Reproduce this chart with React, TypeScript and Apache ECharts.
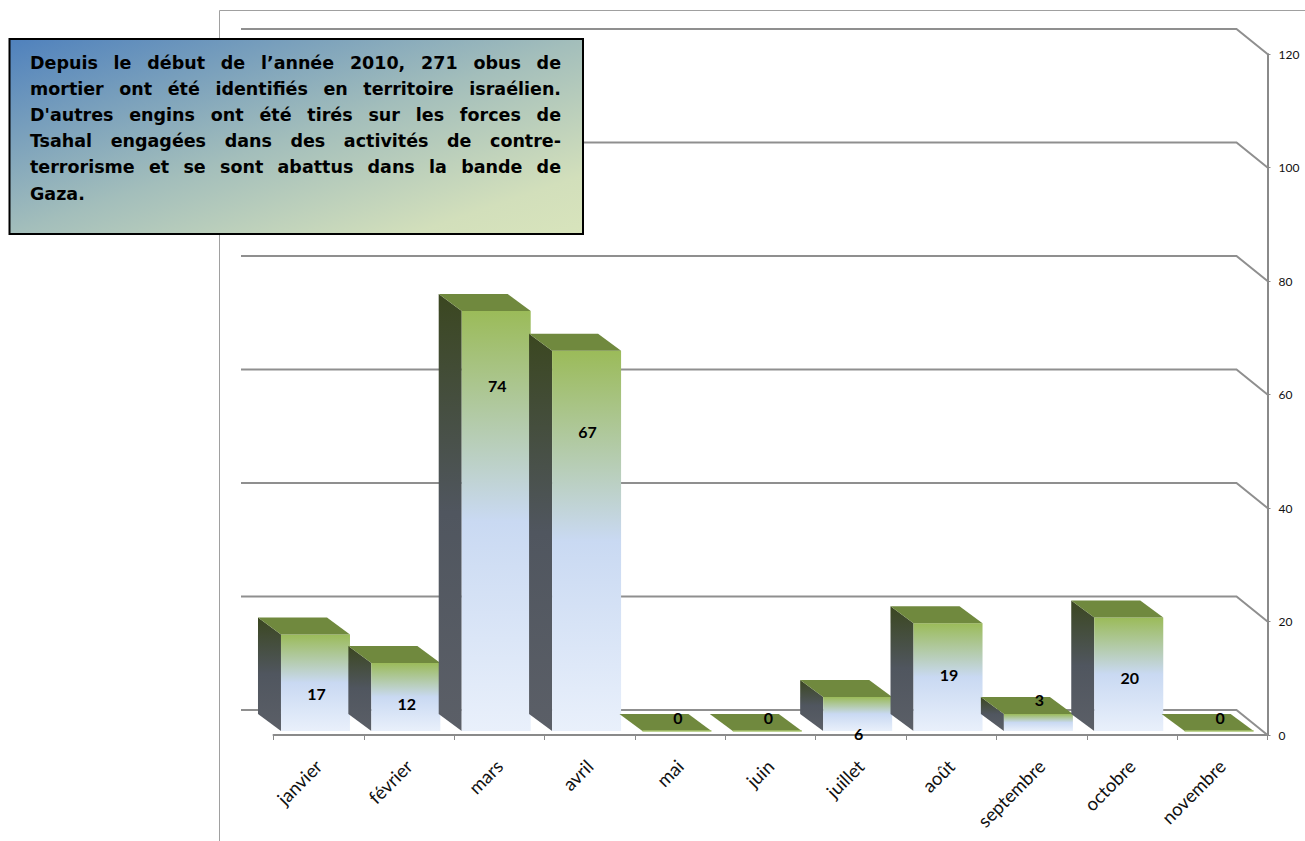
import React, { useEffect, useRef } from "react";
import * as echarts from "echarts";

const categories = ["janvier", "février", "mars", "avril", "mai", "juin", "juillet", "août", "septembre", "octobre", "novembre"];
const shells = [17, 12, 74, 67, 0, 0, 6, 19, 3, 20, 0];
const yTicks = [0, 20, 40, 60, 80, 100, 120];
const noteLines = [
  "Depuis le début de l’année 2010, 271 obus de",
  "mortier ont été identifiés en territoire israélien.",
  "D'autres engins ont été tirés sur les forces de",
  "Tsahal engagées dans des activités de contre-",
  "terrorisme et se sont abattus dans la bande de",
  "Gaza.",
];

// layout (pixels)
const WALL_DX = -31, WALL_DY = -25, WALL_LEFT = -32.5;
const BAR_DX = -37.7, BAR_W = 69, BAR_LIFT = 4, SIDE_DX = -23, SIDE_DY = -17;
const LABEL_DROP = [59, 41, 74, 81, -14, -14, 37, 51.5, -14, 60, -14];
const NOTE = { x: 9.5, y: 39, w: 573.5, h: 195, textL: 30, textR: 561, firstY: 63, lineH: 26.1 };
const NOTE_FONT = { family: "'DejaVu Sans'", size: 17.5, weight: "bold" };

const lg = (stops: [number, string][]) =>
  new echarts.graphic.LinearGradient(0, 0, 0, 1, stops.map(([offset, color]) => ({ offset, color })));

const renderGrid = (params: any, api: any) => {
  const p = api.coord([0, api.value(1)]);
  const right = params.coordSys.x + params.coordSys.width;
  const left = params.coordSys.x + WALL_LEFT;
  const y = p[1];
  return {
    type: "polyline",
    shape: { points: [[left, y + WALL_DY], [right + WALL_DX, y + WALL_DY], [right, y]] },
    style: { fill: "none", stroke: "#8f8f8f", lineWidth: 2 },
  };
};

const renderBar = (_params: any, api: any) => {
  const i = api.value(0);
  const v = api.value(1);
  const c = api.coord([i, v]);
  const base = api.coord([i, 0])[1] - BAR_LIFT;
  const top = c[1] - BAR_LIFT;
  const l = c[0] + BAR_DX;
  const r = l + BAR_W;
  const children: any[] = [];
  if (v > 0) {
    children.push({
      type: "polygon",
      shape: { points: [[l, top], [l + SIDE_DX, top + SIDE_DY], [l + SIDE_DX, base + SIDE_DY], [l, base]] },
      style: { fill: lg([[0, "#3b4720"], [0.5, "#50565f"], [1, "#5b5f67"]]) },
    });
    children.push({
      type: "rect",
      shape: { x: l, y: top, width: BAR_W, height: base - top },
      style: { fill: lg([[0, "#9bbb59"], [0.5, "#c9d9f2"], [1, "#e9f0fb"]]) },
    });
  }
  children.push({
    type: "polygon",
    shape: { points: [[l, top], [l + SIDE_DX, top + SIDE_DY], [r + SIDE_DX, top + SIDE_DY], [r, top]] },
    style: { fill: "#70893e" },
  });
  if (v === 0) {
    children.push({
      type: "line",
      shape: { x1: l, y1: top, x2: r, y2: top },
      style: { stroke: "#a9c46f", lineWidth: 1.5 },
    });
  }
  children.push({
    type: "text",
    z2: 50,
    style: {
      text: String(v),
      x: l + BAR_W / 2 + 1,
      y: top + LABEL_DROP[i],
      align: "center",
      verticalAlign: "middle",
      fontFamily: "Lato",
      fontWeight: "bold",
      fontSize: 16,
      fill: "#000",
    },
  });
  return { type: "group", children };
};

function noteElements() {
  const ctx = document.createElement("canvas").getContext("2d") as CanvasRenderingContext2D;
  ctx.font = `${NOTE_FONT.weight} ${NOTE_FONT.size}px ${NOTE_FONT.family}`;
  const out: any[] = [];
  noteLines.forEach((line, li) => {
    const words = line.split(" ");
    const widths = words.map((w) => ctx.measureText(w).width);
    const total = widths.reduce((a, b) => a + b, 0);
    const last = li === noteLines.length - 1;
    const gap = last ? 6 : (NOTE.textR - NOTE.textL - total) / (words.length - 1);
    let x = NOTE.textL;
    words.forEach((w, wi) => {
      out.push({
        type: "text",
        z: 101,
        x,
        y: NOTE.firstY + li * NOTE.lineH,
        style: {
          text: w,
          fontFamily: NOTE_FONT.family,
          fontSize: NOTE_FONT.size,
          fontWeight: NOTE_FONT.weight,
          fill: "#000",
          verticalAlign: "middle",
        },
      });
      x += widths[wi] + gap;
    });
  });
  return out;
}

export default function App() {
  const ref = useRef<HTMLDivElement>(null);
  useEffect(() => {
    const chart = echarts.init(ref.current as HTMLDivElement, undefined, { renderer: "svg" });
    chart.setOption({
      animation: false,
      backgroundColor: "#fff",
      grid: { left: 273.5, right: 37.5, top: 54, bottom: 106 },
      xAxis: {
        type: "category",
        data: categories,
        axisLine: { lineStyle: { color: "#8a8a8a", width: 2 } },
        axisTick: { show: true, length: 5, lineStyle: { color: "#8a8a8a", width: 1 } },
        axisLabel: { rotate: 45, interval: 0, margin: 28, fontFamily: "Lato", fontSize: 18.5, color: "#111" },
      },
      yAxis: {
        type: "value",
        position: "right",
        min: 0,
        max: 120,
        interval: 20,
        splitLine: { show: false },
        axisLine: { show: true, lineStyle: { color: "#8a8a8a", width: 2 } },
        axisTick: { show: true, length: 3, lineStyle: { color: "#8a8a8a", width: 1 } },
        axisLabel: { margin: 11, fontFamily: "Lato", fontSize: 12, color: "#111" },
      },
      series: [
        {
          type: "custom",
          name: "grille",
          silent: true,
          z: 1,
          encode: { x: 0, y: 1 },
          data: yTicks.map((t) => [0, t]),
          renderItem: renderGrid,
        },
        {
          type: "custom",
          name: "obus",
          z: 3,
          encode: { x: 0, y: 1 },
          data: shells.map((v, i) => [i, v]),
          renderItem: renderBar,
        },
      ],
      graphic: {
        elements: [
          { type: "line", z: 0, shape: { x1: 219.5, y1: 10.5, x2: 1305, y2: 10.5 }, style: { stroke: "#a0a0a0", lineWidth: 1 } },
          { type: "line", z: 0, shape: { x1: 219.5, y1: 10.5, x2: 219.5, y2: 841 }, style: { stroke: "#a0a0a0", lineWidth: 1 } },
          {
            type: "rect",
            z: 100,
            shape: { x: NOTE.x, y: NOTE.y, width: NOTE.w, height: NOTE.h },
            style: {
              fill: new echarts.graphic.LinearGradient(0, 0, 1, 1, [
                { offset: 0, color: "#4f81bd" },
                { offset: 0.5, color: "#a3bebb" },
                { offset: 0.85, color: "#d2dfbb" },
                { offset: 1, color: "#d8e4bc" },
              ]),
              stroke: "#000",
              lineWidth: 2,
            },
          },
          ...noteElements(),
        ],
      },
    });
    return () => chart.dispose();
  }, []);
  return <div ref={ref} style={{ position: "absolute", left: 0, top: 0, width: 1305, height: 841 }} />;
}
